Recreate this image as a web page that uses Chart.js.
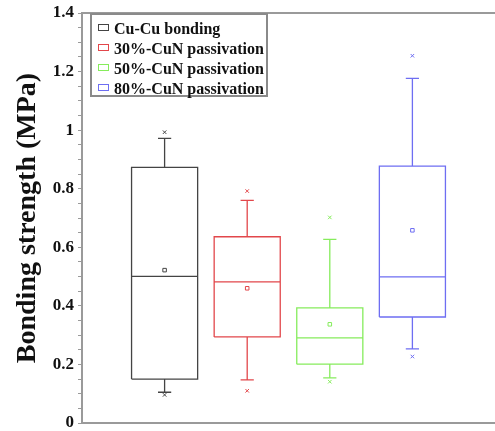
<!DOCTYPE html>
<html>
<head>
<meta charset="utf-8">
<script src="https://cdn.jsdelivr.net/npm/chart.js@4"></script>
<style>
  html, body { margin: 0; padding: 0; background: #fff; }
  #wrap { position: relative; width: 495px; height: 431px; }
  #legend {
    position: absolute; left: 90px; top: 13px; width: 178px; height: 84px;
    border: 2px solid #8a8a8a; background: #fff; box-sizing: border-box;
    font: bold 16px "Liberation Serif", serif; color: #111; padding: 4px 0 0 6px;
  }
  #legend div { height: 20px; line-height: 20px; white-space: nowrap; }
  #legend span { display: inline-block; width: 9px; height: 5px; border: 1px solid; margin-right: 5px; vertical-align: 3px; }
</style>
</head>
<body>
<div id="wrap">
  <canvas id="chart" width="495" height="431"></canvas>
  <div id="legend"></div>
</div>
<script>
// Data
const groups = ['Cu-Cu bonding', '30%-CuN passivation', '50%-CuN passivation', '80%-CuN passivation'];
const colors = ['#444444', '#e2474b', '#86ec5c', '#6e6ef2'];
const positions = [1, 2, 3, 4];
const minMark = [0.096, 0.110, 0.141, 0.227];
const lowWhisker = [0.105, 0.147, 0.154, 0.253];
const q1 = [0.150, 0.294, 0.201, 0.362];
const median = [0.501, 0.482, 0.291, 0.499];
const mean = [0.522, 0.460, 0.337, 0.658];
const q3 = [0.873, 0.636, 0.393, 0.877];
const highWhisker = [0.972, 0.760, 0.627, 1.177];
const maxMark = [0.993, 0.792, 0.702, 1.254];

const halfBox = 0.4;
const halfCap = 0.08;

const datasets = [];
groups.forEach((g, i) => {
    const x = positions[i];
    const gap = { x: x, y: null };
    // box, median, whiskers and caps as one broken line
    const outline = [
        { x: x - halfBox, y: q1[i] }, { x: x + halfBox, y: q1[i] },
        { x: x + halfBox, y: q3[i] }, { x: x - halfBox, y: q3[i] },
        { x: x - halfBox, y: q1[i] }, gap,
        { x: x - halfBox, y: median[i] }, { x: x + halfBox, y: median[i] }, gap,
        { x: x, y: q3[i] }, { x: x, y: highWhisker[i] }, gap,
        { x: x - halfCap, y: highWhisker[i] }, { x: x + halfCap, y: highWhisker[i] }, gap,
        { x: x, y: q1[i] }, { x: x, y: lowWhisker[i] }, gap,
        { x: x - halfCap, y: lowWhisker[i] }, { x: x + halfCap, y: lowWhisker[i] }
    ];
    datasets.push({
        label: g,
        data: outline,
        showLine: true,
        spanGaps: false,
        borderColor: colors[i],
        borderWidth: 1.3,
        pointRadius: 0,
        fill: false
    });
    datasets.push({
        label: g + ' mean',
        data: [{ x: x, y: mean[i] }],
        pointStyle: 'rect',
        pointRadius: 2.5,
        borderColor: colors[i],
        borderWidth: 1,
        backgroundColor: 'rgba(0,0,0,0)'
    });
    datasets.push({
        label: g + ' extremes',
        data: [{ x: x, y: minMark[i] }, { x: x, y: maxMark[i] }],
        pointStyle: 'crossRot',
        pointRadius: 2.5,
        borderColor: colors[i],
        borderWidth: 1
    });
});

// Legend
const legend = document.getElementById('legend');
groups.forEach((g, i) => {
    const row = document.createElement('div');
    row.innerHTML = '<span style="border-color:' + colors[i] + '"></span>' + g;
    legend.appendChild(row);
});

const axisGray = '#9a9a9a';

function flatX(scale) {
    scale.height = 0;
    scale.paddingLeft = 0;
    scale.paddingRight = 0;
}

new Chart(document.getElementById('chart'), {
    type: 'scatter',
    data: { datasets: datasets },
    options: {
        responsive: false,
        animation: false,
        layout: { autoPadding: false, padding: { top: 13, bottom: 8, right: 0, left: 0 } },
        plugins: { legend: { display: false }, tooltip: { enabled: false } },
        scales: {
            x: {
                type: 'linear',
                min: 0,
                max: 5,
                afterFit: flatX,
                ticks: { display: false },
                grid: { display: false },
                border: { display: true, color: axisGray, width: 2 }
            },
            xTop: {
                type: 'linear',
                position: 'top',
                min: 0,
                max: 5,
                afterFit: flatX,
                ticks: { display: false },
                grid: { display: false },
                border: { display: true, color: axisGray, width: 2 }
            },
            y: {
                min: 0,
                max: 1.4,
                afterFit: (scale) => {
                    scale.width = 82;
                    scale.paddingTop = 0;
                    scale.paddingBottom = 0;
                },
                ticks: {
                    stepSize: 0.05,
                    autoSkip: false,
                    color: '#111',
                    padding: 4,
                    font: { family: 'Liberation Serif', size: 17, weight: 'bold' },
                    callback: function(v) {
                        const r = Math.round(v * 100);
                        return r % 20 === 0 ? String(Math.round(v * 10) / 10) : '';
                    }
                },
                grid: {
                    drawOnChartArea: false,
                    drawTicks: true,
                    tickLength: 4,
                    color: axisGray
                },
                border: { display: true, color: axisGray, width: 2 },
                title: {
                    display: true,
                    text: 'Bonding strength (MPa)',
                    color: '#111',
                    padding: { top: 11, bottom: 0 },
                    font: { family: 'Liberation Serif', size: 28, weight: 'bold' }
                }
            }
        }
    }
});
</script>
</body>
</html>
